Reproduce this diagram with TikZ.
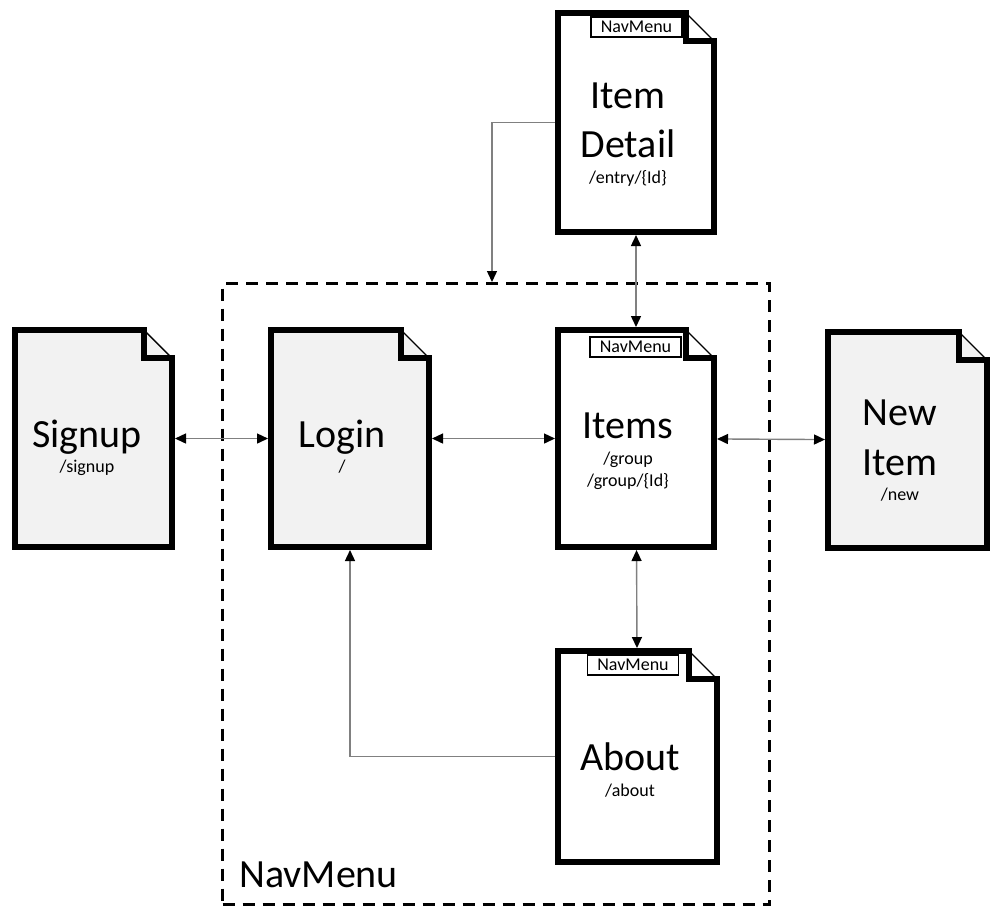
\documentclass[tikz,border=0pt]{standalone}
\usepackage{fontspec}
\setmainfont{Carlito}
\usetikzlibrary{arrows.meta}

\definecolor{docgray}{HTML}{F2F2F2}
\definecolor{linkgray}{HTML}{808080}

\tikzset{
  >={Triangle[length=5.5pt,width=5pt,color=black]},
  docnode/.style={rectangle, inner sep=0pt, outer sep=0pt},
  docline/.style={line width=3pt, line join=miter},
  navbox/.style={draw, line width=1.5pt, dash pattern=on 6pt off 4pt, inner sep=0pt, outer sep=0pt},
  tag/.style={draw, line width=0.8pt, fill=white, inner sep=0pt, minimum width=45.5pt, minimum height=10pt, font=\fontsize{9}{10}\selectfont},
  title/.style={anchor=base, inner sep=0pt, font=\fontsize{20}{24}\selectfont},
  route/.style={anchor=base, inner sep=0pt, font=\fontsize{9}{11}\selectfont},
  link/.style={draw=linkgray, line width=0.7pt, shorten <=1.5pt, shorten >=1.5pt}
}

% page with folded corner round an empty node
\newcommand{\docpage}[2]{%
  \fill[#2] (#1.south west) -- (#1.north west) -- ([xshift=-14pt]#1.north east) -- ([yshift=-14pt]#1.north east) -- (#1.south east) -- cycle;
  \draw[docline] ([xshift=-14pt,yshift=-14pt]#1.north east) -- ([yshift=-14pt]#1.north east) -- (#1.south east) -- (#1.south west) -- (#1.north west) -- ([xshift=-14pt]#1.north east) -- cycle;
  \draw[line width=0.7pt] ([xshift=-14pt]#1.north east) -- ([yshift=-14pt]#1.north east);
}

\begin{document}
\begin{tikzpicture}[x=0.5pt, y=-0.5pt]
\useasboundingbox (0,0) rectangle (1000,918);

\node[navbox, minimum width=273.5pt, minimum height=310.5pt] (Nav) at (496,594) {};
\node[title, anchor=base west] (NavLabel) at (239,887) {NavMenu};

\node[docnode, minimum width=78.5pt, minimum height=108.5pt] (Signup) at (93.5,438.5) {};
\node[docnode, minimum width=79pt, minimum height=108.5pt] (Login) at (350,438.5) {};
\node[docnode, minimum width=78pt, minimum height=108.5pt] (Items) at (636,438.5) {};
\node[docnode, minimum width=79.5pt, minimum height=108pt] (NewItem) at (907.5,440) {};
\node[docnode, minimum width=78pt, minimum height=109.5pt] (Detail) at (636,122.5) {};
\node[docnode, minimum width=79.5pt, minimum height=105.5pt] (About) at (637.5,756.5) {};

\docpage{Signup}{docgray}
\docpage{Login}{docgray}
\docpage{Items}{white}
\docpage{NewItem}{docgray}
\docpage{Detail}{white}
\docpage{About}{white}

\node[tag] (ItemsTag) at (635.5,347) {NavMenu};
\node[tag] (DetailTag) at (636.5,27) {NavMenu};
\node[tag] (AboutTag) at (633,665) {NavMenu};

\node[title] (SignupName) at (87,447) {Signup};
\node[route] (SignupPath) at (87,472) {/signup};
\node[title] (LoginName) at (342,447) {Login};
\node[route] (LoginPath) at (342,472) {/};
\node[title] (ItemsName) at (628,438) {Items};
\node[route] (ItemsPathA) at (628,464) {/group};
\node[route] (ItemsPathB) at (628,486) {/group/\{Id\}};
\node[title] (NewItemA) at (900,425) {New};
\node[title] (NewItemB) at (900,475) {Item};
\node[route] (NewItemPath) at (900,500) {/new};
\node[title] (DetailA) at (628,108) {Item};
\node[title] (DetailB) at (628,157) {Detail};
\node[route] (DetailPath) at (628,183) {/entry/\{Id\}};
\node[title] (AboutName) at (630,770) {About};
\node[route] (AboutPath) at (630,796) {/about};

\draw[link, <->] (Signup) -- (Login);
\draw[link, <->] (Login) -- (Items);
\draw[link, <->] (Items) -- (NewItem);
\draw[link, <->] (Detail) -- (Items);
\draw[link, <->] (Items) -- (About);
\draw[link, ->] (About.west) -| (Login.south);
\draw[link, ->, shorten >=0.75pt] (Detail.west) -| ([xshift=-2pt]Nav.north);
\end{tikzpicture}
\end{document}
